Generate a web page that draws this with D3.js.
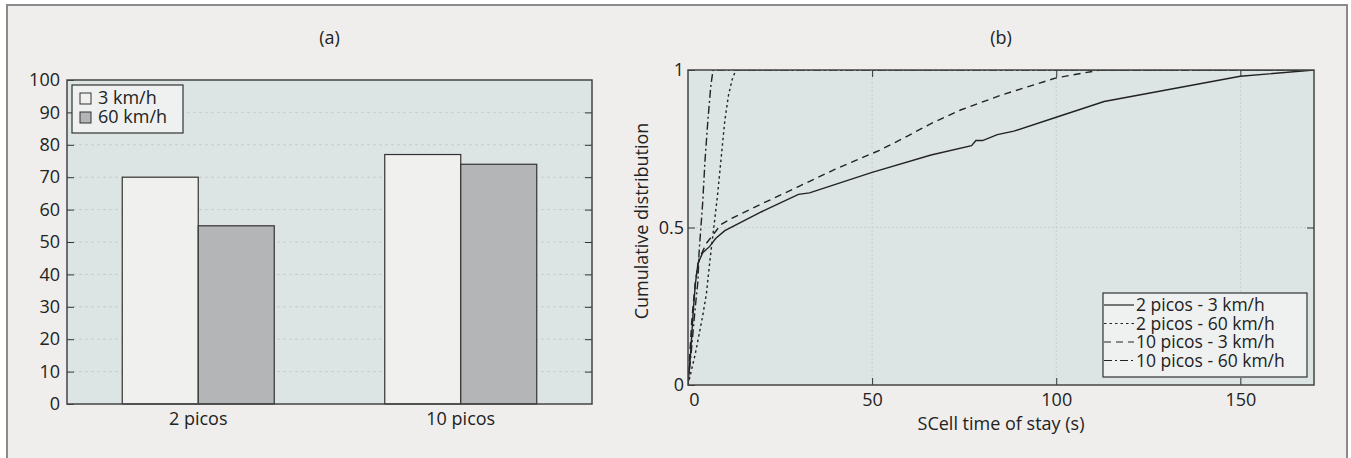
<!DOCTYPE html>
<html>
<head>
<meta charset="utf-8">
<script src="https://cdn.jsdelivr.net/npm/d3@7"></script>
<style>
  body { margin: 0; background: #fff; }
  svg text { font-family: "Open Sans", sans-serif; fill: #222; }
</style>
</head>
<body>
<div id="chart"></div>
<script>
// panel (a): bar chart data
const picoGroups = ["2 picos", "10 picos"];
const speeds = ["3 km/h", "60 km/h"];
const pct3kmh = [70, 77];
const pct60kmh = [55, 74];
const barTicks = [0, 10, 20, 30, 40, 50, 60, 70, 80, 90, 100];

// panel (b): CDF of SCell time of stay
const cdfNames = ["2 picos - 3 km/h", "2 picos - 60 km/h", "10 picos - 3 km/h", "10 picos - 60 km/h"];
const t2p3 = [0, 0.7, 1.45, 2, 2.7, 4, 5.9, 7.5, 10, 20, 30, 33, 50, 66, 77, 78.2, 80, 84, 88.5, 100, 113, 150, 170];
const c2p3 = [0, 0.1, 0.24, 0.32, 0.386, 0.42, 0.44, 0.465, 0.49, 0.55, 0.605, 0.61, 0.675, 0.73, 0.76, 0.776, 0.776, 0.795, 0.806, 0.85, 0.9, 0.98, 1];
const t2p60 = [0, 1, 2, 3, 4, 5, 6, 7, 8, 9, 10, 11, 12, 13, 170];
const c2p60 = [0, 0.05, 0.1, 0.16, 0.22, 0.29, 0.4, 0.5, 0.6, 0.72, 0.84, 0.92, 0.97, 1, 1];
const t10p3 = [0, 1, 2, 3, 5, 9, 12, 20, 30, 40, 52, 58.6, 66, 74, 85, 100, 112, 170];
const c10p3 = [0, 0.2, 0.33, 0.4, 0.45, 0.51, 0.53, 0.575, 0.63, 0.685, 0.745, 0.784, 0.83, 0.873, 0.92, 0.975, 1, 1];
const t10p60 = [0, 1, 2, 2.7, 3, 3.5, 4, 4.6, 5.4, 6.2, 6.8, 170];
const c10p60 = [0, 0.12, 0.25, 0.33, 0.42, 0.5, 0.58, 0.71, 0.84, 0.95, 1, 1];
const cdfXTicks = [0, 50, 100, 150];
const cdfYTicks = [0, 0.5, 1];

const W = 1351, H = 458;
const fs = "18px";
const svg = d3.select("#chart").append("svg")
  .attr("width", W).attr("height", H);

// outer frame
svg.append("rect")
  .attr("x", 7).attr("y", 5).attr("width", 1340).attr("height", 470)
  .attr("fill", "#efeeec").attr("stroke", "#8a8a8a").attr("stroke-width", 2);

const plotBg = "#dde5e4", frameCol = "#444", gridCol = "#c4cecd";

// ---------- panel (a) ----------
const A = { left: 67, right: 592, top: 80, bottom: 404 };
const x0 = d3.scalePoint().domain(picoGroups).range([A.left, A.right]).padding(0.5);
const x1 = d3.scaleBand().domain(speeds).range([-76, 76]);
const yA = d3.scaleLinear().domain([0, 100]).range([A.bottom, A.top]);
const barColour = d3.scaleOrdinal().domain(speeds).range(["#f0f0ee", "#b4b5b7"]);

svg.append("rect")
  .attr("x", A.left).attr("y", A.top)
  .attr("width", A.right - A.left).attr("height", A.bottom - A.top)
  .attr("fill", plotBg);

// dashed gridlines
svg.append("g").selectAll("line")
  .data(barTicks.slice(1, -1))
  .join("line")
    .attr("x1", A.left).attr("x2", A.right)
    .attr("y1", d => yA(d)).attr("y2", d => yA(d))
    .attr("stroke", gridCol).attr("stroke-dasharray", "3,3");

// bars
const barData = [];
picoGroups.forEach((g, i) => {
  barData.push({ group: g, speed: speeds[0], value: pct3kmh[i] });
  barData.push({ group: g, speed: speeds[1], value: pct60kmh[i] });
});
svg.append("g").selectAll("rect")
  .data(barData)
  .join("rect")
    .attr("x", d => x0(d.group) + x1(d.speed))
    .attr("y", d => yA(d.value))
    .attr("width", x1.bandwidth())
    .attr("height", d => yA(0) - yA(d.value))
    .attr("fill", d => barColour(d.speed))
    .attr("stroke", "#333").attr("stroke-width", 1.2);

// axes (inward ticks on both sides)
const axA = svg.append("g")
  .attr("transform", `translate(${A.left},0)`)
  .call(d3.axisLeft(yA).tickValues(barTicks).tickSize(-7).tickPadding(7));
const axAr = svg.append("g")
  .attr("transform", `translate(${A.right},0)`)
  .call(d3.axisRight(yA).tickValues(barTicks.slice(1, -1)).tickSize(-7).tickFormat(""));
[axA, axAr].forEach(g => {
  g.select(".domain").remove();
  g.selectAll("line").attr("stroke", "#333");
  g.selectAll("text").style("font-size", fs).attr("fill", "#222");
});

svg.append("rect")
  .attr("x", A.left).attr("y", A.top)
  .attr("width", A.right - A.left).attr("height", A.bottom - A.top)
  .attr("fill", "none").attr("stroke", frameCol).attr("stroke-width", 1.5);

svg.append("g").selectAll("text")
  .data(picoGroups)
  .join("text")
    .attr("x", d => x0(d)).attr("y", 425)
    .attr("text-anchor", "middle")
    .style("font-size", fs)
    .text(d => d);

svg.append("text")
  .attr("x", (A.left + A.right) / 2).attr("y", 44)
  .attr("text-anchor", "middle").style("font-size", fs)
  .text("(a)");

// legend (a)
const legA = svg.append("g").attr("transform", `translate(72,85)`);
legA.append("rect")
  .attr("width", 111).attr("height", 48)
  .attr("fill", "#eef1f0").attr("stroke", "#333").attr("stroke-width", 1.2);
speeds.forEach((s, i) => {
  legA.append("rect")
    .attr("x", 8).attr("y", 8 + i * 19).attr("width", 11).attr("height", 11)
    .attr("fill", barColour(s)).attr("stroke", "#333").attr("stroke-width", 1);
  legA.append("text")
    .attr("x", 26).attr("y", 19 + i * 19)
    .style("font-size", fs)
    .text(s);
});

// ---------- panel (b) ----------
const B = { left: 688, right: 1314, top: 70, bottom: 385 };
const xB = d3.scaleLinear().domain([0, 170]).range([B.left, B.right]);
const yB = d3.scaleLinear().domain([0, 1]).range([B.bottom, B.top]);

svg.append("rect")
  .attr("x", B.left).attr("y", B.top)
  .attr("width", B.right - B.left).attr("height", B.bottom - B.top)
  .attr("fill", plotBg);

svg.append("clipPath").attr("id", "clipB")
  .append("rect")
    .attr("x", B.left).attr("y", B.top)
    .attr("width", B.right - B.left).attr("height", B.bottom - B.top);

// dotted gridlines
svg.append("g").selectAll("line")
  .data(cdfXTicks.slice(1))
  .join("line")
    .attr("x1", d => xB(d)).attr("x2", d => xB(d))
    .attr("y1", B.top).attr("y2", B.bottom)
    .attr("stroke", gridCol).attr("stroke-dasharray", "2,2");
svg.append("line")
  .attr("x1", B.left).attr("x2", B.right)
  .attr("y1", yB(0.5)).attr("y2", yB(0.5))
  .attr("stroke", gridCol).attr("stroke-dasharray", "2,2");

// curves
const series = [
  { name: cdfNames[0], t: t2p3, c: c2p3, dash: null },
  { name: cdfNames[1], t: t2p60, c: c2p60, dash: "2.5,3" },
  { name: cdfNames[2], t: t10p3, c: c10p3, dash: "7,5" },
  { name: cdfNames[3], t: t10p60, c: c10p60, dash: "8,3,2,3" }
];
const line = d3.line().x(d => xB(d[0])).y(d => yB(d[1]));
svg.append("g").attr("clip-path", "url(#clipB)")
  .selectAll("path")
  .data(series)
  .join("path")
    .attr("d", s => line(s.t.map((t, i) => [t, s.c[i]])))
    .attr("fill", "none")
    .attr("stroke", "#222").attr("stroke-width", 1.4)
    .attr("stroke-dasharray", s => s.dash);

// axes
const axBl = svg.append("g").attr("transform", `translate(${B.left},0)`)
  .call(d3.axisLeft(yB).tickValues(cdfYTicks).tickSize(-7).tickPadding(4)
    .tickFormat(d => d === 0.5 ? "0.5" : d3.format("d")(d)));
const axBr = svg.append("g").attr("transform", `translate(${B.right},0)`)
  .call(d3.axisRight(yB).tickValues([0.5]).tickSize(-7).tickFormat(""));
const axBb = svg.append("g").attr("transform", `translate(0,${B.bottom})`)
  .call(d3.axisBottom(xB).tickValues(cdfXTicks).tickSize(-7).tickPadding(8));
const axBt = svg.append("g").attr("transform", `translate(0,${B.top})`)
  .call(d3.axisTop(xB).tickValues(cdfXTicks.slice(1)).tickSize(-7).tickFormat(""));
[axBl, axBr, axBb, axBt].forEach(g => {
  g.select(".domain").remove();
  g.selectAll("line").attr("stroke", "#333");
  g.selectAll("text").style("font-size", fs).attr("fill", "#222");
});
// the "0" label sits a little right of its tick
axBb.selectAll(".tick text").filter(d => d === 0).attr("dx", 6);

svg.append("rect")
  .attr("x", B.left).attr("y", B.top)
  .attr("width", B.right - B.left).attr("height", B.bottom - B.top)
  .attr("fill", "none").attr("stroke", frameCol).attr("stroke-width", 1.5);

svg.append("text")
  .attr("x", (B.left + B.right) / 2).attr("y", 44)
  .attr("text-anchor", "middle").style("font-size", fs)
  .text("(b)");

svg.append("text")
  .attr("x", (B.left + B.right) / 2).attr("y", 430)
  .attr("text-anchor", "middle").style("font-size", fs)
  .text("SCell time of stay (s)");

svg.append("text")
  .attr("transform", `translate(648,221) rotate(-90)`)
  .attr("text-anchor", "middle").style("font-size", fs)
  .text("Cumulative distribution");

// legend (b) - rows are tight, as in the original
const legB = svg.append("g").attr("transform", `translate(1103,293)`);
legB.append("rect")
  .attr("width", 204).attr("height", 84)
  .attr("fill", "#eef1f0").attr("stroke", "#333").attr("stroke-width", 1.2);
series.forEach((s, i) => {
  const yy = 12 + i * 18.5;
  legB.append("line")
    .attr("x1", 1).attr("x2", 31).attr("y1", yy).attr("y2", yy)
    .attr("stroke", "#222").attr("stroke-width", 1.2)
    .attr("stroke-dasharray", s.dash);
  legB.append("text")
    .attr("x", 33).attr("y", yy + 6)
    .style("font-size", "17.5px")
    .text(s.name);
});
</script>
</body>
</html>
